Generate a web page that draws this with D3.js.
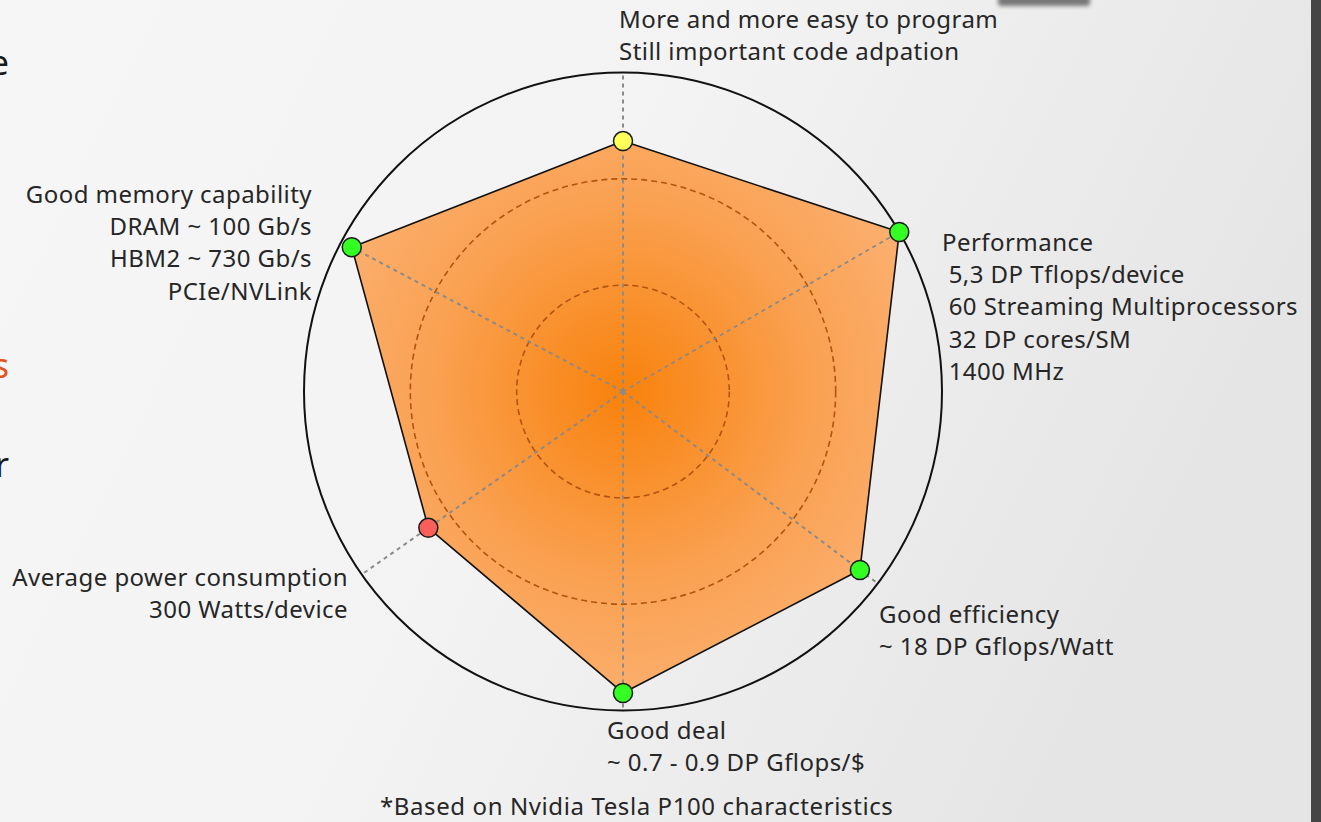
<!DOCTYPE html>
<html>
<head>
<meta charset="utf-8">
<script src="https://cdn.jsdelivr.net/npm/d3@7"></script>
<style>
  html, body { margin: 0; padding: 0; overflow: hidden; }
  svg { display: block; }
  text { font-family: "Noto Sans", "Open Sans", sans-serif; white-space: pre; }
</style>
</head>
<body>
<div id="chart"></div>
<script>
// criteria around the radar, clockwise from the top
var categories = ["Programming", "Performance", "Efficiency", "Deal", "Power", "Memory"];
// score of each criterion, 0..1 of the outer circle
var scores = [0.785, 1.0, 0.93, 0.945, 0.745, 0.963];
// marker status per criterion
var markerStatus = ["medium", "good", "good", "good", "bad", "good"];
var labels = [
  ["More and more easy to program", "Still important code adpation"],
  ["Performance", " 5,3 DP Tflops/device", " 60 Streaming Multiprocessors", " 32 DP cores/SM", " 1400 MHz"],
  ["Good efficiency", "~ 18 DP Gflops/Watt"],
  ["Good deal", "~ 0.7 - 0.9 DP Gflops/$"],
  ["Average power consumption", "300 Watts/device"],
  ["Good memory capability", "DRAM ~ 100 Gb/s", "HBM2 ~ 730 Gb/s", "PCIe/NVLink"]
];
var ringLevels = [1/3, 2/3];
var footnote = "*Based on Nvidia Tesla P100 characteristics";

var width = 1321,
height = 822;
var cx = 623, cy = 391.5, R = 319;

// the axes in the picture are not evenly spread, degrees clockwise from top
var axisAngle = [0, 60, 127, 180, 235, 298];
// label anchor, x, first baseline for each criterion
var labelPos = [
  {anchor: "start", x: 619, y: 28},
  {anchor: "start", x: 942, y: 251},
  {anchor: "start", x: 879, y: 623},
  {anchor: "start", x: 607, y: 739},
  {anchor: "end", x: 348, y: 586},
  {anchor: "end", x: 312, y: 203}
];

var statusColor = d3.scaleOrdinal()
.domain(["good", "medium", "bad"])
.range(["#33ff22", "#ffff5a", "#fa5f5a"]);

var r = d3.scaleLinear().domain([0, 1]).range([0, R]);
var ang = d3.scaleOrdinal().domain(categories).range(axisAngle.map(function(a){ return a * Math.PI / 180; }));

function pt(cat, v) {
  var a = ang(cat);
  return [cx + r(v) * Math.sin(a), cy - r(v) * Math.cos(a)];
}

var svg = d3.select("#chart").append("svg")
.attr("width", width)
.attr("height", height);

var defs = svg.append("defs");
var bg = defs.append("linearGradient").attr("id", "bg")
.attr("x1", 0).attr("y1", 0).attr("x2", 1).attr("y2", 0.3);
bg.append("stop").attr("offset", 0).attr("stop-color", "#f6f6f6");
bg.append("stop").attr("offset", 0.5).attr("stop-color", "#f3f3f3");
bg.append("stop").attr("offset", 1).attr("stop-color", "#e5e5e5");

var fill = defs.append("radialGradient").attr("id", "fill")
.attr("gradientUnits", "userSpaceOnUse")
.attr("cx", cx).attr("cy", cy).attr("r", R);
fill.append("stop").attr("offset", 0).attr("stop-color", "#f8820c");
fill.append("stop").attr("offset", 0.6).attr("stop-color", "#faa152");
fill.append("stop").attr("offset", 1).attr("stop-color", "#fbb070");

var shadow = defs.append("filter").attr("id", "sh")
.attr("x", -0.2).attr("y", -1).attr("width", 1.4).attr("height", 3);
shadow.append("feGaussianBlur").attr("stdDeviation", 2);

// slide background
svg.append("rect").attr("width", width).attr("height", height).attr("fill", "url(#bg)");
svg.append("rect").attr("x", 1311).attr("y", 0).attr("width", 10).attr("height", height).attr("fill", "#454545");
svg.append("rect").attr("x", 998).attr("y", -4).attr("width", 92).attr("height", 10)
.attr("rx", 3).attr("fill", "#777").attr("filter", "url(#sh)");

// slide text clipped at left edge (cut off in the reference as well)
var leftBits = [["e", 75, "#1a1a1a"], ["s", 378, "#e5531c"], ["r", 477, "#1a1a1a"]];
svg.selectAll(".leftbit").data(leftBits).enter().append("text")
.attr("x", 9).attr("y", function(d){ return d[1]; })
.attr("text-anchor", "end")
.attr("font-size", 34)
.attr("fill", function(d){ return d[2]; })
.text(function(d){ return d[0]; });

var g = svg.append("g");

// polygon
var polyPts = categories.map(function(c, i){ return pt(c, scores[i]); });
g.append("path")
.attr("d", d3.line().curve(d3.curveLinearClosed)(polyPts))
.attr("fill", "url(#fill)")
.attr("stroke", "#111")
.attr("stroke-width", 1.6)
.attr("stroke-linejoin", "round");

// dashed inner rings
g.selectAll(".ring").data(ringLevels).enter().append("circle")
.attr("cx", cx).attr("cy", cy)
.attr("r", function(d){ return r(d); })
.attr("fill", "none")
.attr("stroke", "#b0540f")
.attr("stroke-width", 1.6)
.attr("stroke-dasharray", "6,4");

// axes
g.selectAll(".axis").data(categories).enter().append("line")
.attr("x1", cx).attr("y1", cy)
.attr("x2", function(d){ return pt(d, 1)[0]; })
.attr("y2", function(d){ return pt(d, 1)[1]; })
.attr("stroke", "#8a8a8a")
.attr("stroke-width", 2)
.attr("stroke-dasharray", "4,4");

// outer circle
g.append("circle")
.attr("cx", cx).attr("cy", cy).attr("r", r(1))
.attr("fill", "none")
.attr("stroke", "#111")
.attr("stroke-width", 2);

// markers
g.selectAll(".dot").data(categories).enter().append("circle")
.attr("cx", function(d, i){ return pt(d, scores[i])[0]; })
.attr("cy", function(d, i){ return pt(d, scores[i])[1]; })
.attr("r", 9.5)
.attr("fill", function(d, i){ return statusColor(markerStatus[i]); })
.attr("stroke", "#1a1a1a")
.attr("stroke-width", 1.5);

// labels
var lab = svg.selectAll(".lab").data(labels).enter().append("text")
.attr("text-anchor", function(d, i){ return labelPos[i].anchor; })
.attr("font-size", 24)
.attr("letter-spacing", 0.45)
.attr("fill", "#262626");
lab.each(function(lines, i){
  d3.select(this).selectAll("tspan").data(lines).enter().append("tspan")
  .attr("x", labelPos[i].x)
  .attr("y", function(d, j){ return labelPos[i].y + j * 32.2; })
  .text(function(d){ return d; });
});

svg.append("text")
.attr("x", 380).attr("y", 815)
.attr("font-size", 24)
.attr("letter-spacing", 0.6)
.attr("fill", "#262626")
.text(footnote);
</script>
</body>
</html>
